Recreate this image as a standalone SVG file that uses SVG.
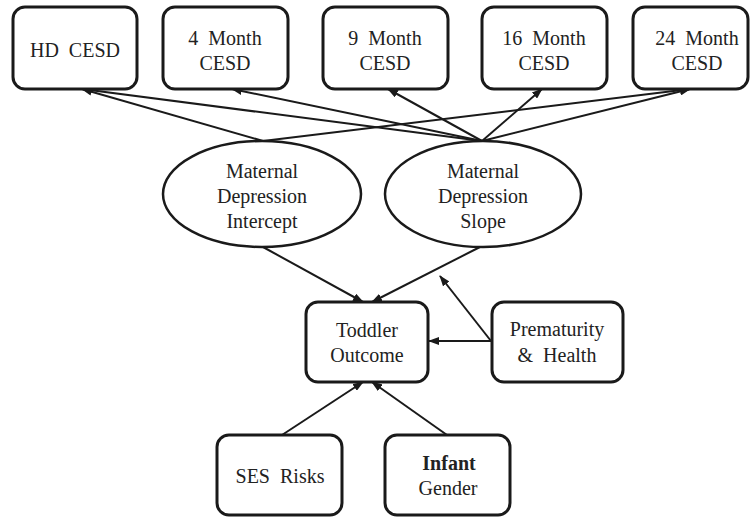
<svg xmlns="http://www.w3.org/2000/svg" width="751" height="517" viewBox="0 0 751 517">
<style>
.box{fill:#fff;stroke:#1a1a1a;stroke-width:3}
.ell{fill:#fff;stroke:#1a1a1a;stroke-width:2.5}
.lbl{font-family:"Liberation Serif","Times New Roman",serif;font-size:20px;fill:#222;text-anchor:middle}
.b{font-weight:bold}
.edge{stroke:#1a1a1a;stroke-width:2;fill:none;marker-end:url(#ah)}
</style>
<defs>
<marker id="ah" markerUnits="userSpaceOnUse" markerWidth="11" markerHeight="8" refX="10" refY="4" orient="auto">
<path d="M0,0 L11,4 L0,8 z" fill="#1a1a1a"/>
</marker>
</defs>
<rect width="751" height="517" fill="#fff"/>
<g id="connectors">
<line class="edge" x1="263" y1="141" x2="82" y2="89"/>
<line class="edge" x1="263" y1="141" x2="690" y2="89"/>
<line class="edge" x1="482" y1="141" x2="82" y2="89"/>
<line class="edge" x1="482" y1="141" x2="232" y2="89"/>
<line class="edge" x1="482" y1="141" x2="388" y2="89"/>
<line class="edge" x1="482" y1="141" x2="542" y2="89"/>
<line class="edge" x1="482" y1="141" x2="690" y2="89"/>
<line class="edge" x1="263" y1="247" x2="363" y2="302"/>
<line class="edge" x1="480" y1="247" x2="372" y2="302"/>
<line class="edge" x1="491" y1="341" x2="429" y2="341"/>
<line class="edge" x1="491" y1="341" x2="440" y2="276"/>
<line class="edge" x1="282" y1="435" x2="363" y2="382"/>
<line class="edge" x1="447" y1="435" x2="372" y2="382"/>
</g>
<g id="hd-cesd">
<rect class="box" x="13" y="7" width="124" height="82" rx="12"/>
<text class="lbl" x="75" y="57" xml:space="preserve">HD  CESD</text>
</g>
<g id="m4-cesd">
<rect class="box" x="163" y="7" width="125" height="82" rx="12"/>
<text class="lbl" x="225" y="45" xml:space="preserve">4  Month</text>
<text class="lbl" x="225" y="70">CESD</text>
</g>
<g id="m9-cesd">
<rect class="box" x="323" y="7" width="125" height="82" rx="12"/>
<text class="lbl" x="385" y="45" xml:space="preserve">9  Month</text>
<text class="lbl" x="385" y="70">CESD</text>
</g>
<g id="m16-cesd">
<rect class="box" x="482" y="7" width="125" height="82" rx="12"/>
<text class="lbl" x="544" y="45" xml:space="preserve">16  Month</text>
<text class="lbl" x="544" y="70">CESD</text>
</g>
<g id="m24-cesd">
<rect class="box" x="633" y="7" width="115" height="82" rx="12"/>
<text class="lbl" x="697" y="45" xml:space="preserve">24  Month</text>
<text class="lbl" x="697" y="70">CESD</text>
</g>
<g id="intercept">
<ellipse class="ell" cx="262" cy="194" rx="99" ry="53"/>
<text class="lbl" x="262" y="178">Maternal</text>
<text class="lbl" x="262" y="203">Depression</text>
<text class="lbl" x="262" y="228">Intercept</text>
</g>
<g id="slope">
<ellipse class="ell" cx="483" cy="194" rx="98" ry="53"/>
<text class="lbl" x="483" y="178">Maternal</text>
<text class="lbl" x="483" y="203">Depression</text>
<text class="lbl" x="483" y="228">Slope</text>
</g>
<g id="toddler">
<rect class="box" x="306" y="302" width="122" height="80" rx="12"/>
<text class="lbl" x="367" y="337">Toddler</text>
<text class="lbl" x="367" y="362">Outcome</text>
</g>
<g id="prematurity">
<rect class="box" x="492" y="302" width="131" height="80" rx="12"/>
<text class="lbl" x="557" y="336">Prematurity</text>
<text class="lbl" x="557" y="362" xml:space="preserve">&amp;  Health</text>
</g>
<g id="ses">
<rect class="box" x="217" y="435" width="125" height="80" rx="12"/>
<text class="lbl" x="280" y="483" xml:space="preserve">SES  Risks</text>
</g>
<g id="infant">
<rect class="box" x="385" y="435" width="125" height="80" rx="12"/>
<text class="lbl b" x="449" y="470">Infant</text>
<text class="lbl" x="448" y="495">Gender</text>
</g>
</svg>
